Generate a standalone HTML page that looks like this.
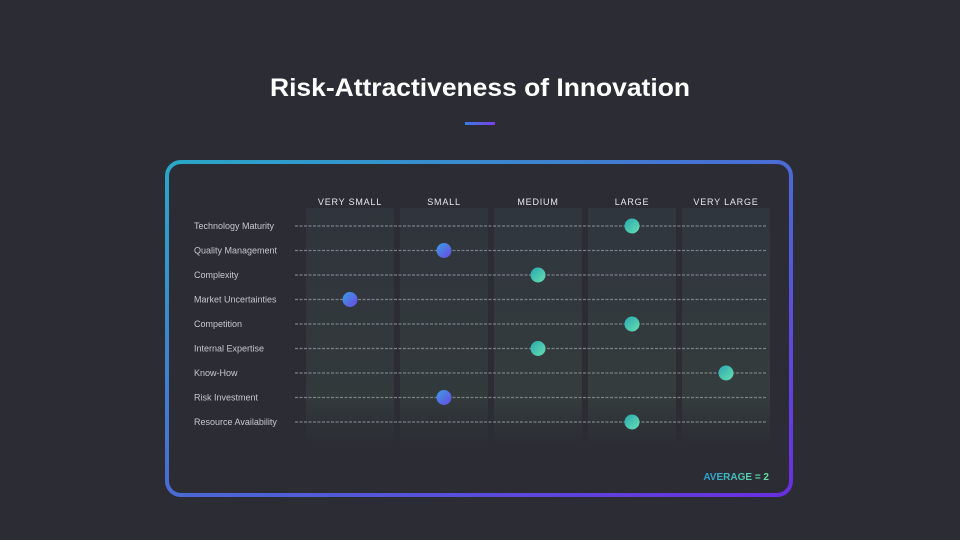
<!DOCTYPE html>
<html><head><meta charset="utf-8"><style>
html,body{margin:0;padding:0;background:#2b2c34;width:960px;height:540px;overflow:hidden;font-family:"Liberation Sans",sans-serif}
</style></head><body>
<svg width="960" height="540" id="chart">
<defs>
<linearGradient id="frame" x1="0" y1="0" x2="1" y2="1"><stop offset="0" stop-color="#2aa8c8"/><stop offset="1" stop-color="#6a2ee0"/></linearGradient>
<linearGradient id="ul" x1="0" x2="1"><stop offset="0" stop-color="#3a7fe0"/><stop offset="1" stop-color="#7a3ee8"/></linearGradient>
<linearGradient id="dotB" x1="0" y1="0" x2="1" y2="1"><stop offset="0" stop-color="#3a9ee8"/><stop offset="1" stop-color="#6a48e0"/></linearGradient>
<linearGradient id="dotG" x1="0" y1="0" x2="1" y2="1"><stop offset="0" stop-color="#28a8b0"/><stop offset="1" stop-color="#68e0b0"/></linearGradient>
<linearGradient id="avg" x1="0" x2="1"><stop offset="0" stop-color="#2a9ed0"/><stop offset="1" stop-color="#6ae0a0"/></linearGradient>
<linearGradient id="panel" x1="0" y1="0" x2="0" y2="1"><stop offset="0" stop-color="#30363e"/><stop offset="0.8" stop-color="#343c3d"/><stop offset="1" stop-color="#2b2d34"/></linearGradient>
</defs>
<text x="480" y="96" text-anchor="middle" fill="#ffffff" font-size="25" font-weight="bold" textLength="420" lengthAdjust="spacingAndGlyphs">Risk-Attractiveness of Innovation</text>
<rect x="465" y="122" width="30" height="3" fill="url(#ul)"/>
<rect x="167" y="162" width="624" height="333" rx="14" fill="none" stroke="url(#frame)" stroke-width="4"/>
<text x="769" y="480" text-anchor="end" fill="url(#avg)" font-size="10" font-weight="bold">AVERAGE = 2</text>
<g id="g"></g>
</svg>
<script>
const categories=["VERY SMALL","SMALL","MEDIUM","LARGE","VERY LARGE"];
const factors=["Technology Maturity","Quality Management","Complexity","Market Uncertainties","Competition","Internal Expertise","Know-How","Risk Investment","Resource Availability"];
const ratings=[3,1,2,0,3,2,4,1,3];
const NS="http://www.w3.org/2000/svg";
const g=document.getElementById('g');
const xPos=i=>350+i*94;
const yPos=i=>226+i*24.5;
function mk(t,a){const e=document.createElementNS(NS,t);for(const k in a)e.setAttribute(k,a[k]);g.appendChild(e);return e;}
categories.forEach((c,i)=>{
  const p=mk('rect',{x:xPos(i)-44,y:208,width:88,height:236,fill:'url(#panel)',opacity:i>=2?1:0.85});
  
  
  const t=mk('text',{x:xPos(i),y:205,'text-anchor':'middle',fill:'#e8e8ec','font-size':9,'letter-spacing':'0.8'});
  t.textContent=c;
  
  
});
factors.forEach((f,i)=>{
  const y=yPos(i);
  const l=mk('line',{x1:295,x2:767,y1:y,y2:y,stroke:'#7c7f88','stroke-width':1.2,'stroke-dasharray':'3 1.5'});
  
  
  const t=mk('text',{x:194,y:y+3,fill:'#c8c9ce','font-size':9});
  t.textContent=f;
  
  
});
ratings.forEach((r,i)=>{
  const d=mk('circle',{cx:xPos(r),cy:yPos(i),r:7.5,fill:r<=1?'url(#dotB)':'url(#dotG)'});
  
  
});
</script>
</body></html>
